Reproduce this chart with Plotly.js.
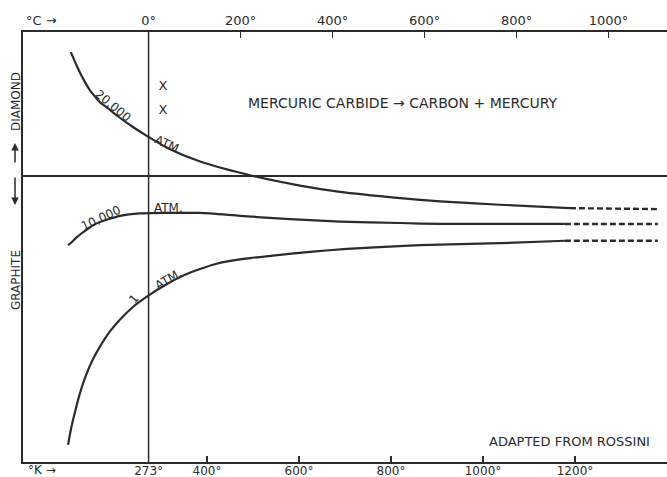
<!DOCTYPE html>
<html>
<head>
<meta charset="utf-8">
<script src="https://cdn.plot.ly/plotly-3.0.1.min.js"></script>
<style>
  html, body { margin: 0; padding: 0; background: #ffffff; }
  #chart { width: 667px; height: 477px; }
</style>
</head>
<body>
<div id="chart"></div>
<script>
// Temperature in Kelvin; y = -ΔF/T (cal/deg·mol), schematic
const K_20000 = [104, 113, 124, 135, 146, 157, 167, 185, 204, 239, 270, 313, 385, 500, 602, 689, 820, 907, 1037, 1189];
const Y_20000 = [2.58, 2.38, 2.15, 1.95, 1.78, 1.65, 1.54, 1.41, 1.26, 1.02, 0.83, 0.59, 0.30, 0, -0.20, -0.33, -0.46, -0.53, -0.60, -0.67];
const K_20000_EXT = [1189, 1380];
const Y_20000_EXT = [-0.67, -0.69];

const K_10000 = [98, 107, 115, 124, 137, 152, 167, 189, 211, 254, 313, 385, 472, 580, 689, 820, 907, 1178];
const Y_10000 = [-1.44, -1.37, -1.29, -1.22, -1.13, -1.03, -0.96, -0.89, -0.83, -0.78, -0.77, -0.77, -0.83, -0.90, -0.95, -0.98, -1.0, -1.0];
const K_10000_EXT = [1178, 1380];
const Y_10000_EXT = [-1.0, -1.0];

const K_1 = [98, 104, 113, 124, 137, 152, 167, 189, 211, 239, 270, 313, 352, 385, 417, 450, 494, 543, 624, 704, 863, 1037, 1178];
const Y_1 = [-5.60, -5.29, -4.92, -4.52, -4.15, -3.82, -3.56, -3.24, -2.99, -2.73, -2.51, -2.25, -2.06, -1.94, -1.84, -1.77, -1.71, -1.66, -1.58, -1.52, -1.44, -1.40, -1.35];
const K_1_EXT = [1178, 1380];
const Y_1_EXT = [-1.35, -1.35];

const X_MARKS_K = [304, 304];
const X_MARKS_Y = [1.85, 1.35];

const K_TICKS = [273, 400, 600, 800, 1000, 1200];
const K_TICK_TEXT = ['273°', '400°', '600°', '800°', '1000°', '1200°'];
const C_TICKS = [0, 200, 400, 600, 800, 1000];
const C_TICK_TEXT = ['0°', '200°', '400°', '600°', '800°', '1000°'];
const ICE_POINT_K = 273;

const INK = '#2b2b2b';
const FONT = 'DejaVu Sans';

function solid(x, y) {
  return { x: x, y: y, type: 'scatter', mode: 'lines', hoverinfo: 'skip',
    line: { color: INK, width: 2.2, shape: 'spline', smoothing: 0.6 }, showlegend: false };
}
function dashed(x, y) {
  return { x: x, y: y, type: 'scatter', mode: 'lines', hoverinfo: 'skip',
    line: { color: INK, width: 2.4, dash: '6px,3px' }, showlegend: false };
}

const traces = [
  solid(K_20000, Y_20000), dashed(K_20000_EXT, Y_20000_EXT),
  solid(K_10000, Y_10000), dashed(K_10000_EXT, Y_10000_EXT),
  solid(K_1, Y_1), dashed(K_1_EXT, Y_1_EXT),
  { x: X_MARKS_K, y: X_MARKS_Y, type: 'scatter', mode: 'text', text: ['X', 'X'],
    textfont: { family: FONT, size: 13, color: INK }, showlegend: false, hoverinfo: 'skip' },
  // invisible trace on top (Celsius) axis to activate it
  { x: [C_TICKS[0]], y: [0], xaxis: 'x2', type: 'scatter', mode: 'markers',
    marker: { opacity: 0 }, showlegend: false, hoverinfo: 'skip' }
];

function lbl(x, y, text, angle, size) {
  return { x: x, y: y, xref: 'x', yref: 'y', text: text, showarrow: false,
    xanchor: 'center', yanchor: 'middle',
    textangle: angle || 0, font: { family: FONT, size: size || 12, color: INK } };
}
function plbl(x, y, text, angle, size) {
  return { x: x, y: y, xref: 'paper', yref: 'paper', text: text, showarrow: false,
    xanchor: 'center', yanchor: 'middle',
    textangle: angle || 0, font: { family: FONT, size: size || 13, color: INK } };
}

const layout = {
  width: 667, height: 477,
  margin: { l: 23, r: 0, t: 32, b: 15, pad: 0 },
  paper_bgcolor: '#ffffff', plot_bgcolor: '#ffffff',
  showlegend: false,
  xaxis: {
    range: [0, 1400], showgrid: false, zeroline: false,
    showline: true, linecolor: INK, linewidth: 1.8,
    tickmode: 'array', tickvals: K_TICKS, ticktext: K_TICK_TEXT,
    ticks: 'inside', ticklen: 6, tickcolor: INK, tickwidth: 1.4,
    ticklabelstandoff: -3,
    tickfont: { family: FONT, size: 12, color: INK }
  },
  xaxis2: {
    overlaying: 'x', side: 'top', anchor: 'y',
    range: [-273, 1127], showgrid: false, zeroline: false,
    showline: true, linecolor: INK, linewidth: 1.8,
    tickmode: 'array', tickvals: C_TICKS, ticktext: C_TICK_TEXT,
    ticks: 'inside', ticklen: 6, tickcolor: INK, tickwidth: 1.4,
    tickfont: { family: FONT, size: 13, color: INK }
  },
  yaxis: {
    range: [-5.96, 3.0], showgrid: false, showticklabels: false, ticks: '',
    showline: true, linecolor: INK, linewidth: 1.8,
    zeroline: true, zerolinecolor: INK, zerolinewidth: 1.8
  },
  shapes: [
    { type: 'line', xref: 'x', yref: 'paper', x0: ICE_POINT_K, x1: ICE_POINT_K, y0: 0, y1: 1,
      line: { color: INK, width: 1.5 } }
  ],
  annotations: [
    lbl(196, 1.46, '20,000', 40, 12),
    lbl(317, 0.64, 'ATM.', 25, 12),
    lbl(170, -0.88, '10,000', -25, 12),
    lbl(317, -0.66, 'ATM.', 0, 12),
    lbl(241, -2.56, '1', -50, 12),
    lbl(317, -2.15, 'ATM.', -30, 12),
    lbl(826, 1.52, 'MERCURIC CARBIDE → CARBON + MERCURY', 0, 14),
    lbl(1187, -5.54, 'ADAPTED FROM ROSSINI', 0, 13),
    plbl(-0.0109, 0.8395, 'DIAMOND', -90, 12),
    plbl(-0.0109, 0.423, 'GRAPHITE', -90, 12),
    plbl(0.0295, 1.0256, '°C →', 0, 13),
    plbl(0.0295, -0.0186, '°K →', 0, 12),
    { x: -0.0124, y: 0.7419, xref: 'paper', yref: 'paper', text: '', showarrow: true,
      ax: 0, ay: 21, arrowhead: 2, arrowsize: 1, arrowwidth: 1.5, arrowcolor: INK },
    { x: -0.0124, y: 0.5977, xref: 'paper', yref: 'paper', text: '', showarrow: true,
      ax: 0, ay: -29, arrowhead: 2, arrowsize: 1, arrowwidth: 1.5, arrowcolor: INK }
  ]
};

Plotly.newPlot('chart', traces, layout, { displayModeBar: false, staticPlot: true });
</script>
</body>
</html>
